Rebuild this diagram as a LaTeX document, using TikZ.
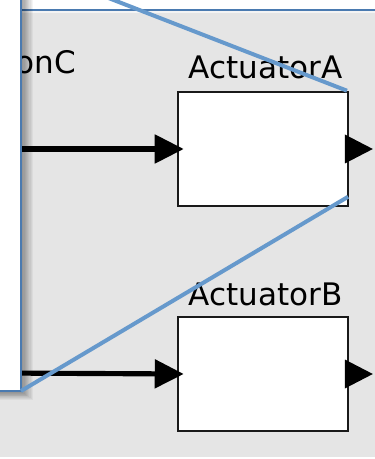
\documentclass[tikz,border=0pt]{standalone}
\usepackage{fontspec}
\newfontfamily\blockfont{DejaVu Sans}
\usetikzlibrary{arrows.meta}
\definecolor{canvasgray}{RGB}{229,229,229}
\definecolor{zoomblue}{RGB}{102,153,204}
\definecolor{frameblue}{RGB}{74,122,176}
\tikzset{
  block/.style={draw=black!90, fill=white, line width=2.2pt, minimum width=5.1cm, minimum height=3.42cm, inner sep=0pt},
  blocklabel/.style={font=\blockfont\fontsize{26.5pt}{30pt}\selectfont, inner sep=0pt, anchor=base},
  signal/.style={line width=4.4pt, -{Triangle[length=8.7mm,width=8.4mm]}},
  zoomline/.style={zoomblue, line width=3.4pt},
  frame/.style={frameblue, line width=1.5pt}
}

\begin{document}
\begin{tikzpicture}[x=0.03cm, y=-0.03cm]
    \useasboundingbox (0,0) rectangle (375,459);
    \clip (0,0) rectangle (375,459);
    % canvas
    \fill[canvasgray] (0,10) rectangle (375,457);
    \fill[white] (21,-5) rectangle (380,10);
    \fill[white, opacity=0.6] (21,10) rectangle (380,13);
    \draw[frame] (21,10) -- (380,10);

    % blocks
    \node[block] (actA) at (263,149) {};
    \node[block] (actB) at (263,374) {};
    \node[blocklabel] (labA) at ([xshift=2pt,yshift=10pt]actA.north) {ActuatorA};
    \node[blocklabel] (labB) at ([xshift=2pt,yshift=9pt]actB.north) {ActuatorB};
    \node[blocklabel, anchor=base east] (labC) at (76,74) {onC};

    % output ports
    \foreach \b in {actA, actB}
        \fill ([xshift=-3.8pt]\b.east) ++(0,-14.5) -- ++(28,14.5) -- ++(-28,14.5) -- cycle;

    % signals coming from behind the zoom panel
    \coordinate (srcA) at (0,149);
    \coordinate (srcB) at (0,373);
    \draw[signal] (srcA) -- ([xshift=6pt]actA.west);
    \draw[signal] (srcB) -- ([xshift=6pt]actB.west);

    % zoom panel with shadow
    \foreach \k in {1,...,10}
        \fill[black, opacity=0.045] (-5,-5) rectangle (21+1.2*\k, 391+0.9*\k);
    \fill[white] (-5,-5) rectangle (21,391);
    \draw[frame] (21,-5) -- (21,391) -- (-5,391);

    % zoom lines
    \coordinate (panelNE) at (21,-36);
    \coordinate (panelSE) at (21,391);
    \coordinate (magNE) at ([xshift=-2pt]actA.north east);
    \coordinate (magSE) at ([xshift=-1pt,yshift=9pt]actA.south east);
    \draw[zoomline] (panelNE) -- (magNE);
    \draw[zoomline] (panelSE) -- (magSE);
\end{tikzpicture}
\end{document}
